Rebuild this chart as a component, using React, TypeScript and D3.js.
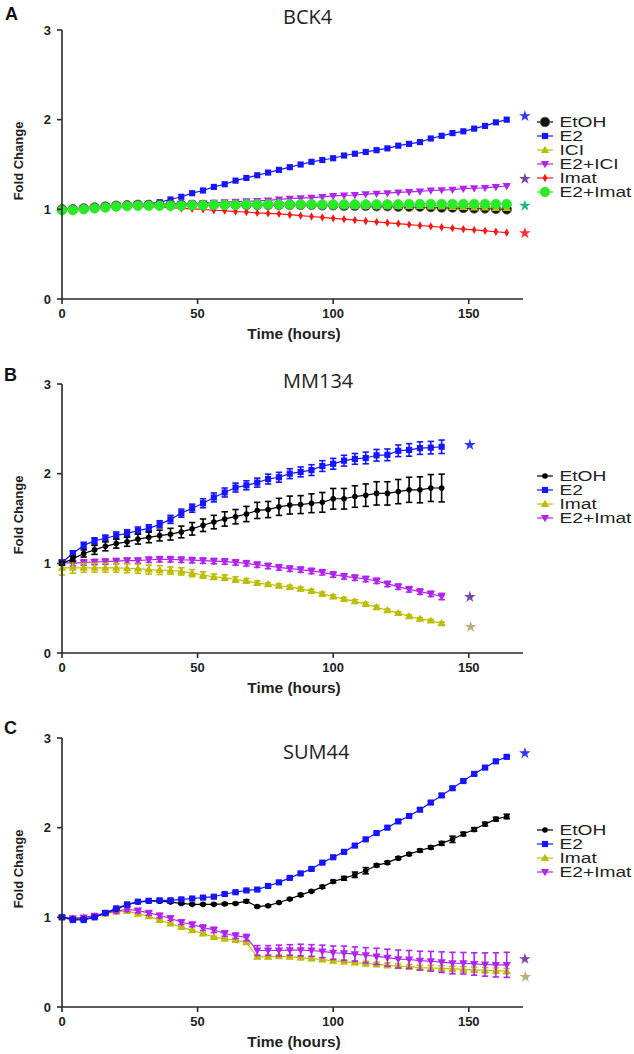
import React from "react";
import * as d3 from "d3";

// ---------- DATA ----------
const TIMES_164 = [0,4,8,12,16,20,24,28,32,36,40,44,48,52,56,60,64,68,72,76,80,84,88,92,96,100,104,108,112,116,120,124,128,132,136,140,144,148,152,156,160,164];
const TIMES_140 = [0,4,8,12,16,20,24,28,32,36,40,44,48,52,56,60,64,68,72,76,80,84,88,92,96,100,104,108,112,116,120,124,128,132,136,140];

const X_TICKS = [0, 50, 100, 150];
const Y_TICKS = [0, 1, 2, 3];

// Panel A: BCK4
const A_ETOH = [1.00,1.00,1.01,1.02,1.03,1.04,1.045,1.05,1.05,1.05,
  1.05,1.05,1.05,1.05,1.05,1.05,1.05,1.05,1.05,1.05,
  1.05,1.05,1.05,1.05,1.045,1.045,1.04,1.04,1.04,1.035,
  1.035,1.03,1.03,1.03,1.025,1.02,1.02,1.015,1.01,1.01,
  1.005,1.00];
const A_E2 = [1.00,1.00,1.01,1.02,1.03,1.04,1.045,1.05,1.06,1.08,
  1.11,1.14,1.18,1.21,1.25,1.28,1.32,1.35,1.38,1.41,
  1.44,1.47,1.50,1.53,1.55,1.57,1.60,1.62,1.64,1.66,
  1.68,1.71,1.73,1.75,1.79,1.82,1.85,1.87,1.90,1.93,
  1.97,2.00];
const A_ICI = [1.00,1.00,1.01,1.02,1.03,1.04,1.045,1.05,1.05,1.05,
  1.05,1.05,1.05,1.05,1.05,1.05,1.05,1.05,1.05,1.05,
  1.05,1.05,1.05,1.05,1.05,1.045,1.045,1.04,1.04,1.04,
  1.04,1.035,1.035,1.035,1.03,1.03,1.025,1.025,1.02,1.02,
  1.015,1.015];
const A_E2ICI = [1.00,1.00,1.01,1.02,1.03,1.04,1.045,1.05,1.05,1.055,
  1.06,1.06,1.065,1.07,1.075,1.08,1.085,1.09,1.095,1.10,
  1.11,1.12,1.125,1.13,1.14,1.15,1.155,1.16,1.17,1.175,
  1.18,1.19,1.195,1.20,1.21,1.215,1.22,1.23,1.235,1.24,
  1.25,1.26];
const A_IMAT = [1.00,1.00,1.01,1.02,1.025,1.03,1.03,1.03,1.03,1.025,
  1.02,1.01,1.005,1.00,0.99,0.985,0.975,0.97,0.96,0.955,
  0.95,0.94,0.93,0.92,0.91,0.90,0.89,0.88,0.87,0.86,
  0.85,0.84,0.83,0.82,0.81,0.80,0.79,0.78,0.77,0.76,
  0.75,0.74];
const A_E2IMAT = [0.99,0.99,1.00,1.01,1.02,1.03,1.035,1.04,1.04,1.04,
  1.04,1.04,1.045,1.045,1.05,1.05,1.05,1.055,1.055,1.055,
  1.055,1.055,1.055,1.055,1.055,1.055,1.055,1.055,1.055,1.055,
  1.055,1.055,1.06,1.06,1.06,1.06,1.06,1.06,1.06,1.06,
  1.06,1.06];

// Panel B: MM134
const B_ETOH = [1.00,1.05,1.11,1.15,1.19,1.22,1.24,1.27,1.29,1.31,
  1.325,1.35,1.385,1.425,1.46,1.495,1.52,1.55,1.59,1.60,
  1.63,1.65,1.655,1.67,1.68,1.72,1.72,1.745,1.76,1.78,
  1.78,1.80,1.82,1.82,1.84,1.84];
const B_ETOH_ERR = [0.02,0.03,0.04,0.05,0.05,0.05,0.05,0.055,0.06,0.06,
  0.065,0.065,0.07,0.07,0.075,0.08,0.08,0.085,0.09,0.09,
  0.095,0.1,0.1,0.105,0.11,0.115,0.115,0.12,0.125,0.13,
  0.13,0.135,0.14,0.145,0.15,0.155];
const B_E2 = [1.01,1.11,1.20,1.25,1.28,1.31,1.335,1.365,1.39,1.435,
  1.49,1.56,1.615,1.67,1.735,1.79,1.845,1.87,1.90,1.94,
  1.96,2.00,2.02,2.04,2.085,2.11,2.145,2.165,2.175,2.205,
  2.21,2.255,2.265,2.285,2.29,2.30];
const B_E2_ERR = [0.02,0.03,0.035,0.035,0.035,0.04,0.04,0.04,0.04,0.04,
  0.045,0.045,0.045,0.05,0.05,0.05,0.05,0.05,0.05,0.055,
  0.055,0.055,0.055,0.06,0.06,0.06,0.06,0.06,0.065,0.065,
  0.065,0.065,0.07,0.07,0.07,0.075];
const B_IMAT = [0.95,0.95,0.95,0.95,0.95,0.95,0.945,0.94,0.93,0.925,
  0.92,0.91,0.89,0.87,0.85,0.84,0.82,0.805,0.78,0.765,
  0.75,0.735,0.715,0.69,0.66,0.63,0.60,0.575,0.545,0.51,
  0.475,0.445,0.41,0.38,0.36,0.33];
const B_IMAT_ERR = [0.08,0.06,0.05,0.05,0.05,0.05,0.05,0.05,0.05,0.05,
  0.04,0.04,0.04,0.035,0.03,0.03,0.03,0.025,0.025,0.02,
  0.02,0.02,0.02,0.02,0.02,0.02,0.02,0.02,0.02,0.02,
  0.015,0.015,0.015,0.015,0.015,0.015];
const B_E2IMAT = [1.01,1.00,1.01,1.015,1.02,1.025,1.03,1.03,1.04,1.045,
  1.045,1.04,1.035,1.03,1.025,1.02,1.01,1.00,0.985,0.97,
  0.955,0.94,0.93,0.915,0.90,0.875,0.855,0.84,0.825,0.805,
  0.77,0.74,0.71,0.685,0.66,0.63];
const B_E2IMAT_ERR = [0.03,0.03,0.03,0.03,0.03,0.03,0.03,0.03,0.03,0.03,
  0.03,0.03,0.03,0.03,0.03,0.03,0.03,0.03,0.03,0.03,
  0.03,0.03,0.03,0.03,0.03,0.03,0.03,0.03,0.03,0.03,
  0.03,0.03,0.03,0.03,0.03,0.035];

// Panel C: SUM44
const C_ETOH = [1.00,0.98,0.98,1.00,1.05,1.09,1.14,1.17,1.18,1.18,
  1.17,1.155,1.145,1.145,1.145,1.15,1.155,1.18,1.12,1.13,
  1.165,1.205,1.25,1.29,1.34,1.40,1.435,1.475,1.52,1.58,
  1.61,1.66,1.705,1.745,1.78,1.825,1.87,1.93,1.98,2.04,
  2.095,2.125];
const C_ETOH_ERR = [0.01,0.01,0.01,0.01,0.01,0.01,0.01,0.01,0.01,0.01,
  0.01,0.01,0.01,0.01,0.01,0.01,0.01,0.015,0.01,0.01,
  0.01,0.01,0.015,0.01,0.015,0.015,0.02,0.03,0.035,0.015,
  0.015,0.015,0.015,0.015,0.015,0.02,0.035,0.02,0.02,0.02,
  0.02,0.025];
const C_E2 = [1.00,0.97,0.97,1.00,1.05,1.10,1.145,1.175,1.185,1.19,
  1.19,1.20,1.21,1.22,1.23,1.26,1.28,1.30,1.31,1.35,
  1.39,1.44,1.49,1.54,1.61,1.67,1.73,1.80,1.87,1.94,
  2.00,2.07,2.13,2.20,2.28,2.36,2.44,2.52,2.60,2.67,
  2.74,2.79];
const C_E2_ERR = [0.012,0.012,0.012,0.012,0.012,0.012,0.012,0.012,0.012,0.012,
  0.012,0.012,0.012,0.012,0.012,0.012,0.012,0.012,0.012,0.012,
  0.012,0.012,0.012,0.012,0.012,0.012,0.012,0.012,0.012,0.012,
  0.015,0.015,0.015,0.015,0.015,0.015,0.015,0.015,0.015,0.015,
  0.015,0.015];
const C_IMAT = [1.00,0.99,1.00,1.01,1.04,1.06,1.07,1.04,1.01,0.97,
  0.93,0.89,0.855,0.82,0.78,0.76,0.745,0.72,0.56,0.56,
  0.565,0.56,0.55,0.54,0.53,0.515,0.505,0.495,0.485,0.475,
  0.465,0.455,0.45,0.44,0.435,0.43,0.425,0.42,0.415,0.41,
  0.405,0.40];
const C_IMAT_ERR = [0.01,0.01,0.01,0.01,0.01,0.01,0.01,0.01,0.01,0.01,
  0.01,0.01,0.01,0.01,0.01,0.01,0.01,0.01,0.02,0.02,
  0.02,0.02,0.02,0.02,0.02,0.02,0.02,0.02,0.025,0.025,
  0.025,0.025,0.025,0.025,0.03,0.03,0.03,0.03,0.03,0.03,
  0.03,0.03];
const C_E2IMAT = [1.00,0.99,1.00,1.02,1.05,1.07,1.09,1.075,1.05,1.02,
  0.99,0.945,0.92,0.885,0.86,0.82,0.795,0.775,0.63,0.63,
  0.63,0.635,0.635,0.63,0.62,0.605,0.60,0.59,0.577,0.565,
  0.55,0.535,0.53,0.517,0.51,0.50,0.49,0.488,0.48,0.474,
  0.47,0.47];
const C_E2IMAT_ERR = [0.015,0.015,0.015,0.02,0.02,0.02,0.025,0.025,0.025,0.025,
  0.025,0.025,0.025,0.03,0.03,0.03,0.03,0.035,0.055,0.055,
  0.06,0.06,0.065,0.065,0.07,0.075,0.08,0.08,0.085,0.09,
  0.095,0.1,0.1,0.105,0.11,0.115,0.12,0.12,0.125,0.13,
  0.135,0.14];

// significance stars: time, fold change, colour
const A_STARS_T = [170.7, 170.7, 170.7, 170.7];
const A_STARS_V = [2.04, 1.34, 1.04, 0.735];
const A_STARS_C = ["#3535ff", "#7d44a8", "#24b878", "#ff3030"];
const B_STARS_T = [150.4, 150.4, 150.7];
const B_STARS_V = [2.32, 0.625, 0.29];
const B_STARS_C = ["#3535ff", "#7d44a8", "#b8b07c"];
const C_STARS_T = [170.7, 170.7, 170.9];
const C_STARS_V = [2.83, 0.535, 0.335];
const C_STARS_C = ["#3535ff", "#7d44a8", "#b8b07c"];

// ---------- STYLE ----------
const BLACK = "#000000";
const BLUE = "#1515ff";
const YELLOW = "#bcbc00";
const PURPLE = "#b025ee";
const RED = "#ff1515";
const GREEN = "#22ee22";
const AXIS = "#2a2a2a";
const FONT = "'Liberation Sans', Arial, sans-serif";

type Shape = "bigCircle" | "dot" | "square" | "triUp" | "triDown" | "diamond" | "greenCircle";

interface Series {
  name: string;
  color: string;
  shape: Shape;
  t: number[];
  v: number[];
  err?: number[];
}

const symPath = (type: d3.SymbolType, size: number) => d3.symbol().type(type).size(size)() as string;

function Marker({ shape, color, x, y }: { shape: Shape; color: string; x: number; y: number }) {
  switch (shape) {
    case "bigCircle":
      return <circle cx={x} cy={y} r={4.8} fill="#111" stroke="#555" strokeWidth={0.8} />;
    case "greenCircle":
      return <circle cx={x} cy={y} r={4.8} fill={GREEN} stroke="#4fd84f" strokeWidth={0.8} />;
    case "dot":
      return <circle cx={x} cy={y} r={2.8} fill={color} />;
    case "square":
      return <path d={symPath(d3.symbolSquare, 38)} transform={`translate(${x},${y})`} fill={color} />;
    case "triUp":
      return <path d={symPath(d3.symbolTriangle, 30)} transform={`translate(${x},${y + 0.5})`} fill={color} />;
    case "triDown":
      return <path d={symPath(d3.symbolTriangle, 30)} transform={`translate(${x},${y - 0.5}) rotate(180)`} fill={color} />;
    case "diamond":
      return <path d={symPath(d3.symbolDiamond, 20)} transform={`translate(${x},${y})`} fill={color} />;
  }
  return null;
}

interface PanelProps {
  letter: string;
  letterX: number;
  letterY: number;
  title: string;
  titleY: number;
  yTop: number;
  yBottom: number;
  series: Series[];
  drawOrder: number[];
  legendY0: number;
  starT: number[];
  starV: number[];
  starC: string[];
}

const xScale = d3.scaleLinear().domain([0, 170]).range([62, 523]);

function Panel(p: PanelProps) {
  const y = d3.scaleLinear().domain([0, 3]).range([p.yBottom, p.yTop]);
  const mkLine = (s: Series) =>
    d3
      .line<number>()
      .x((_, i) => xScale(s.t[i]))
      .y((d) => y(d))(s.v) as string;
  const x0 = xScale(0);
  const x1 = xScale.range()[1];
  const midY = (p.yTop + p.yBottom) / 2 - 3.5;
  return (
    <g>
      <text x={p.letterX} y={p.letterY} fontFamily={FONT} fontWeight="bold" fontSize={18} fill="#111">
        {p.letter}
      </text>
      <text x={283} y={p.titleY} fontFamily="'Open Sans', sans-serif" fontSize={20} fill="#222">
        {p.title}
      </text>

      {p.drawOrder.map((k) => {
        const s = p.series[k];
        return (
          <g key={s.name}>
            <path d={mkLine(s)} fill="none" stroke={s.color} strokeWidth={1.2} />
            {s.err &&
              s.v.map((v, i) => {
                const e = s.err![i] ?? 0;
                if (e <= 0) return null;
                const cx = xScale(s.t[i]);
                const ya = y(v + e);
                const yb = y(v - e);
                return (
                  <g key={i} stroke={s.color} strokeWidth={1.6}>
                    <line x1={cx} x2={cx} y1={ya} y2={yb} />
                    <line x1={cx - 3.2} x2={cx + 3.2} y1={ya} y2={ya} />
                    <line x1={cx - 3.2} x2={cx + 3.2} y1={yb} y2={yb} />
                  </g>
                );
              })}
            {s.v.map((v, i) => (
              <Marker key={i} shape={s.shape} color={s.color} x={xScale(s.t[i])} y={y(v)} />
            ))}
          </g>
        );
      })}

      <line x1={x0} x2={x0} y1={p.yTop} y2={p.yBottom} stroke={AXIS} strokeWidth={1.6} />
      <line x1={x0} x2={x1} y1={p.yBottom} y2={p.yBottom} stroke={AXIS} strokeWidth={1.6} />
      {Y_TICKS.map((t) => (
        <g key={"y" + t}>
          <line x1={x0 - 5} x2={x0} y1={y(t)} y2={y(t)} stroke={AXIS} strokeWidth={1.6} />
          <text x={51} y={y(t) + 4.5} textAnchor="end" fontFamily={FONT} fontWeight="bold" fontSize={13} fill="#222">
            {t}
          </text>
        </g>
      ))}
      {X_TICKS.map((t) => (
        <g key={"x" + t}>
          <line x1={xScale(t)} x2={xScale(t)} y1={p.yBottom} y2={p.yBottom + 5} stroke={AXIS} strokeWidth={1.6} />
          <text x={xScale(t)} y={p.yBottom + 19} textAnchor="middle" fontFamily={FONT} fontWeight="bold" fontSize={13} fill="#222">
            {t}
          </text>
        </g>
      ))}
      <text x={294} y={p.yBottom + 40} textAnchor="middle" fontFamily={FONT} fontWeight="bold" fontSize={15.5} fill="#222">
        Time (hours)
      </text>
      <text
        transform={`translate(23,${midY}) rotate(-90)`}
        textAnchor="middle"
        fontFamily={FONT}
        fontWeight="bold"
        fontSize={13}
        fill="#222"
      >
        Fold Change
      </text>

      {p.starT.map((t, i) => (
        <path
          key={"s" + i}
          d={symPath(d3.symbolStar, 42)}
          transform={`translate(${xScale(t)},${y(p.starV[i])})`}
          fill={p.starC[i]}
        />
      ))}

      {p.series.map((s, i) => {
        const cy = p.legendY0 + i * 14;
        return (
          <g key={"l" + s.name}>
            <line x1={537} x2={553} y1={cy} y2={cy} stroke={s.color} strokeWidth={1.2} />
            <Marker shape={s.shape} color={s.color} x={545} y={cy} />
            <text transform={`translate(559.5,${cy + 5}) scale(1.37,1)`} fontFamily={FONT} fontSize={14} fill="#222">
              {s.name}
            </text>
          </g>
        );
      })}
    </g>
  );
}

const SERIES_A: Series[] = [
  { name: "EtOH", color: BLACK, shape: "bigCircle", t: TIMES_164, v: A_ETOH },
  { name: "E2", color: BLUE, shape: "square", t: TIMES_164, v: A_E2 },
  { name: "ICI", color: YELLOW, shape: "triUp", t: TIMES_164, v: A_ICI },
  { name: "E2+ICI", color: PURPLE, shape: "triDown", t: TIMES_164, v: A_E2ICI },
  { name: "Imat", color: RED, shape: "diamond", t: TIMES_164, v: A_IMAT },
  { name: "E2+Imat", color: GREEN, shape: "greenCircle", t: TIMES_164, v: A_E2IMAT },
];

const SERIES_B: Series[] = [
  { name: "EtOH", color: BLACK, shape: "dot", t: TIMES_140, v: B_ETOH, err: B_ETOH_ERR },
  { name: "E2", color: BLUE, shape: "square", t: TIMES_140, v: B_E2, err: B_E2_ERR },
  { name: "Imat", color: YELLOW, shape: "triUp", t: TIMES_140, v: B_IMAT, err: B_IMAT_ERR },
  { name: "E2+Imat", color: PURPLE, shape: "triDown", t: TIMES_140, v: B_E2IMAT, err: B_E2IMAT_ERR },
];

const SERIES_C: Series[] = [
  { name: "EtOH", color: BLACK, shape: "dot", t: TIMES_164, v: C_ETOH, err: C_ETOH_ERR },
  { name: "E2", color: BLUE, shape: "square", t: TIMES_164, v: C_E2, err: C_E2_ERR },
  { name: "Imat", color: YELLOW, shape: "triUp", t: TIMES_164, v: C_IMAT, err: C_IMAT_ERR },
  { name: "E2+Imat", color: PURPLE, shape: "triDown", t: TIMES_164, v: C_E2IMAT, err: C_E2IMAT_ERR },
];

export default function App() {
  return (
    <svg width={634} height={1054} viewBox="0 0 634 1054" style={{ position: "absolute", left: 0, top: 0, background: "#fff" }}>
      <rect x={0} y={0} width={634} height={1054} fill="#fff" />
      <Panel
        letter="A"
        letterX={5}
        letterY={20}
        title="BCK4"
        titleY={24}
        yTop={30}
        yBottom={299}
        series={SERIES_A}
        drawOrder={[1, 3, 4, 0, 2, 5]}
        legendY0={122}
        starT={A_STARS_T}
        starV={A_STARS_V}
        starC={A_STARS_C}
      />
      <Panel
        letter="B"
        letterX={4}
        letterY={381}
        title="MM134"
        titleY={388}
        yTop={384}
        yBottom={653}
        series={SERIES_B}
        drawOrder={[3, 2, 1, 0]}
        legendY0={476}
        starT={B_STARS_T}
        starV={B_STARS_V}
        starC={B_STARS_C}
      />
      <Panel
        letter="C"
        letterX={4}
        letterY={734}
        title="SUM44"
        titleY={759}
        yTop={738}
        yBottom={1007}
        series={SERIES_C}
        drawOrder={[2, 3, 0, 1]}
        legendY0={830}
        starT={C_STARS_T}
        starV={C_STARS_V}
        starC={C_STARS_C}
      />
    </svg>
  );
}
